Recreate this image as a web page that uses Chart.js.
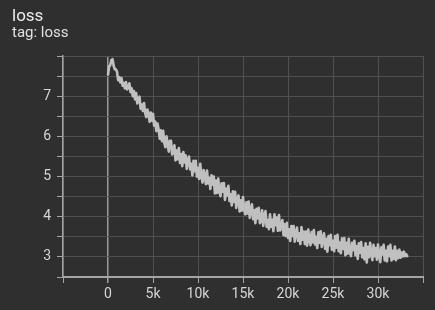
<!DOCTYPE html>
<html>
<head>
<meta charset="utf-8">
<script src="https://cdn.jsdelivr.net/npm/chart.js@4.4.1/dist/chart.umd.min.js"></script>
<style>
  html, body { margin: 0; padding: 0; background: #2f2f2f; }
  #wrap { position: relative; width: 435px; height: 310px; }
  #title { position: absolute; left: 12px; top: 5px; font: 17px/20px Roboto, sans-serif; color: #ececec; }
  #tag { position: absolute; left: 12px; top: 24px; font: 15px/17px Roboto, sans-serif; color: #e0e0e0; }
  canvas { position: absolute; left: 0; top: 0; }
</style>
</head>
<body>
<div id="wrap">
  <canvas id="lossChart" width="435" height="310"></canvas>
  <div id="title">loss</div>
  <div id="tag">tag: loss</div>
</div>
<script>
// Pasos de entrenamiento (eje x)
const steps = [
    0, 125, 250, 375, 500, 625, 750, 875,
    1000, 1125, 1250, 1375, 1500, 1625, 1750, 1875,
    2000, 2125, 2250, 2375, 2500, 2625, 2750, 2875,
    3000, 3125, 3250, 3375, 3500, 3625, 3750, 3875,
    4000, 4125, 4250, 4375, 4500, 4625, 4750, 4875,
    5000, 5125, 5250, 5375, 5500, 5625, 5750, 5875,
    6000, 6125, 6250, 6375, 6500, 6625, 6750, 6875,
    7000, 7125, 7250, 7375, 7500, 7625, 7750, 7875,
    8000, 8125, 8250, 8375, 8500, 8625, 8750, 8875,
    9000, 9125, 9250, 9375, 9500, 9625, 9750, 9875,
    10000, 10125, 10250, 10375, 10500, 10625, 10750, 10875,
    11000, 11125, 11250, 11375, 11500, 11625, 11750, 11875,
    12000, 12125, 12250, 12375, 12500, 12625, 12750, 12875,
    13000, 13125, 13250, 13375, 13500, 13625, 13750, 13875,
    14000, 14125, 14250, 14375, 14500, 14625, 14750, 14875,
    15000, 15125, 15250, 15375, 15500, 15625, 15750, 15875,
    16000, 16125, 16250, 16375, 16500, 16625, 16750, 16875,
    17000, 17125, 17250, 17375, 17500, 17625, 17750, 17875,
    18000, 18125, 18250, 18375, 18500, 18625, 18750, 18875,
    19000, 19125, 19250, 19375, 19500, 19625, 19750, 19875,
    20000, 20125, 20250, 20375, 20500, 20625, 20750, 20875,
    21000, 21125, 21250, 21375, 21500, 21625, 21750, 21875,
    22000, 22125, 22250, 22375, 22500, 22625, 22750, 22875,
    23000, 23125, 23250, 23375, 23500, 23625, 23750, 23875,
    24000, 24125, 24250, 24375, 24500, 24625, 24750, 24875,
    25000, 25125, 25250, 25375, 25500, 25625, 25750, 25875,
    26000, 26125, 26250, 26375, 26500, 26625, 26750, 26875,
    27000, 27125, 27250, 27375, 27500, 27625, 27750, 27875,
    28000, 28125, 28250, 28375, 28500, 28625, 28750, 28875,
    29000, 29125, 29250, 29375, 29500, 29625, 29750, 29875,
    30000, 30125, 30250, 30375, 30500, 30625, 30750, 30875,
    31000, 31125, 31250, 31375, 31500, 31625, 31750, 31875,
    32000, 32125, 32250, 32375, 32500, 32625, 32750, 32875,
    33000, 33125, 33250
];

// Valores de loss
const lossValues = [
    7.54, 7.74, 7.77, 7.90, 7.92, 7.76, 7.67, 7.67,
    7.61, 7.40, 7.47, 7.34, 7.45, 7.26, 7.33, 7.19,
    7.35, 7.17, 7.20, 7.32, 7.10, 7.20, 7.00, 7.13,
    6.92, 7.08, 6.82, 6.92, 6.99, 6.69, 6.79, 6.63,
    6.83, 6.59, 6.48, 6.67, 6.57, 6.36, 6.59, 6.39,
    6.56, 6.27, 6.37, 6.13, 6.32, 6.17, 5.94, 6.15,
    5.88, 6.14, 5.84, 5.73, 6.00, 5.81, 5.62, 5.89,
    5.89, 5.55, 5.61, 5.78, 5.40, 5.65, 5.43, 5.71,
    5.34, 5.56, 5.26, 5.61, 5.35, 5.53, 5.19, 5.40,
    5.50, 5.18, 5.32, 5.03, 5.39, 5.13, 5.39, 5.00,
    5.22, 4.94, 5.32, 5.01, 4.85, 5.16, 5.02, 4.81,
    5.15, 4.83, 4.97, 4.69, 5.03, 4.80, 5.00, 4.58,
    4.90, 4.59, 4.95, 4.63, 4.51, 4.83, 4.62, 4.84,
    4.42, 4.70, 4.53, 4.77, 4.39, 4.56, 4.28, 4.63,
    4.37, 4.62, 4.22, 4.43, 4.53, 4.13, 4.41, 4.15,
    4.49, 4.19, 4.06, 4.36, 4.08, 4.38, 3.97, 4.19,
    4.31, 3.94, 4.16, 3.84, 4.20, 3.96, 4.22, 3.84,
    3.89, 4.16, 3.77, 4.03, 4.14, 3.75, 3.92, 3.69,
    4.06, 3.75, 3.93, 3.64, 4.06, 3.79, 3.98, 3.65,
    4.04, 3.66, 3.75, 3.92, 3.54, 3.81, 3.52, 3.85,
    3.47, 3.69, 3.40, 3.77, 3.52, 3.77, 3.38, 3.59,
    3.73, 3.40, 3.59, 3.32, 3.74, 3.43, 3.63, 3.32,
    3.63, 3.28, 3.68, 3.43, 3.29, 3.62, 3.36, 3.67,
    3.31, 3.50, 3.22, 3.61, 3.35, 3.64, 3.25, 3.44,
    3.59, 3.20, 3.45, 3.13, 3.52, 3.29, 3.55, 3.18,
    3.40, 3.14, 3.52, 3.23, 3.55, 3.14, 3.36, 3.09,
    3.46, 3.20, 3.47, 3.04, 3.35, 3.08, 3.45, 3.10,
    3.02, 3.35, 3.17, 3.40, 3.04, 3.27, 2.95, 3.34,
    3.10, 3.37, 2.99, 3.22, 2.94, 3.34, 2.86, 3.25,
    2.99, 3.35, 3.09, 2.92, 3.30, 3.02, 3.22, 2.93,
    3.31, 3.03, 2.87, 3.24, 3.06, 3.30, 2.91, 3.15,
    2.89, 3.26, 3.02, 3.30, 2.91, 3.15, 2.95, 3.26,
    2.92, 3.15, 2.97, 3.18, 2.98, 3.11, 3.01, 3.13,
    3.02, 3.07, 3.02
];

// Marcas de los ejes
const xTickLabels = ['0', '5k', '10k', '15k', '20k', '25k', '30k'];
const yTickLabels = ['3', '4', '5', '6', '7'];

const labelColor = '#d6d6d6';
const gridColor = '#505050';
const axisColor = '#a4a4a4';

function createLossChart() {
    const ctx = document.getElementById('lossChart').getContext('2d');

    new Chart(ctx, {
        type: 'line',
        data: {
            datasets: [{
                label: 'loss',
                data: steps.map((s, i) => ({ x: s, y: lossValues[i] })),
                borderColor: '#c0c0c0',
                borderWidth: 2.6,
                borderJoinStyle: 'round',
                borderCapStyle: 'round',
                pointRadius: 0,
                tension: 0,
                fill: false
            }]
        },
        options: {
            responsive: false,
            animation: false,
            layout: {
                padding: { left: 0, top: 56, right: 12, bottom: 0 }
            },
            plugins: {
                legend: { display: false },
                tooltip: { enabled: false }
            },
            scales: {
                x: {
                    type: 'linear',
                    min: -5000,
                    max: 35000,
                    afterFit: scale => { scale.height = 33; },
                    ticks: {
                        stepSize: 5000,
                        autoSkip: false,
                        maxRotation: 0,
                        padding: 3,
                        color: labelColor,
                        font: { family: 'Roboto', size: 14 },
                        callback: value => {
                            const i = value / 5000;
                            return (i >= 0 && i < xTickLabels.length) ? xTickLabels[i] : '';
                        }
                    },
                    grid: {
                        color: c => (c.tick && c.tick.value === 0) ? '#9a9a9a' : gridColor,
                        lineWidth: c => (c.tick && c.tick.value === 0) ? 1.5 : 1,
                        tickColor: axisColor,
                        tickLength: 6
                    },
                    border: { color: axisColor, width: 2 }
                },
                y: {
                    min: 2.5,
                    max: 8,
                    afterFit: scale => { scale.width = 63; },
                    ticks: {
                        stepSize: 0.5,
                        autoSkip: false,
                        padding: 6,
                        color: labelColor,
                        font: { family: 'Roboto', size: 14 },
                        callback: value => yTickLabels.includes(String(value)) ? String(value) : ''
                    },
                    grid: {
                        color: gridColor,
                        tickColor: axisColor,
                        tickLength: 6
                    },
                    border: { color: axisColor, width: 1.5 }
                }
            }
        }
    });
}

createLossChart();
</script>
</body>
</html>
